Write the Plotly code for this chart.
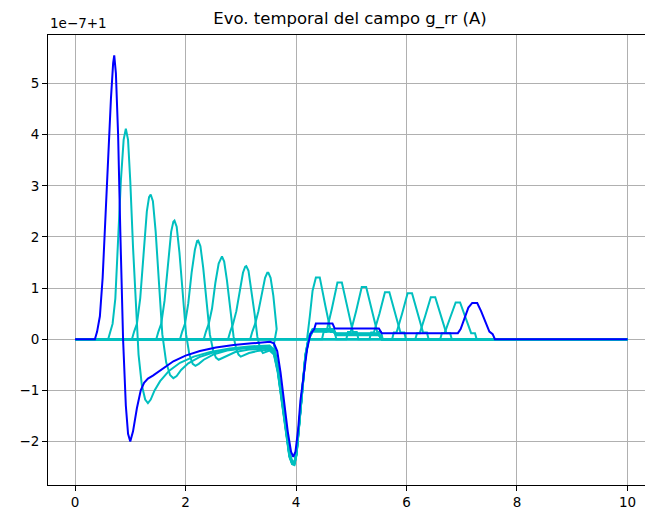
import plotly.graph_objects as go

# ---------------- data (units of 1e-7, offset +1) ----------------
BLUE_X = [0, 0.36, 0.40, 0.45, 0.50, 0.55, 0.60, 0.65, 0.69, 0.71, 0.74, 0.78, 0.82, 0.87, 0.92, 0.96,
          1.00, 1.05, 1.12, 1.19, 1.25, 1.32, 1.41, 1.55, 1.78, 2.00, 2.26, 2.55, 2.87, 3.20, 3.53,
          3.60, 3.66, 3.72, 3.78, 3.85, 3.91, 3.95, 3.99, 4.04, 4.08, 4.14, 4.20, 4.26, 4.33, 4.36,
          4.66, 4.70, 5.50, 5.55, 6.93, 6.98, 7.05, 7.12, 7.19, 7.28, 7.35, 7.42, 7.50, 7.56, 7.60, 10]
BLUE_Y = [0, 0, 0.15, 0.45, 1.2, 2.4, 3.6, 4.7, 5.4, 5.55, 5.2, 4.0, 2.1, 0.0, -1.3, -1.85,
          -2.0, -1.8, -1.35, -1.0, -0.85, -0.77, -0.71, -0.6, -0.43, -0.32, -0.23, -0.16, -0.11, -0.08, -0.05,
          -0.08, -0.23, -0.65, -1.2, -1.8, -2.2, -2.3, -2.2, -1.75, -1.2, -0.65, -0.2, 0.1, 0.2, 0.31,
          0.31, 0.21, 0.21, 0.12, 0.12, 0.2, 0.4, 0.62, 0.71, 0.71, 0.55, 0.35, 0.15, 0.1, 0, 0]

# cyan curves whose pulse is still before the reflection (x < 4)
PRE1_X = [0, 0.60, 0.64, 0.68, 0.73, 0.78, 0.83, 0.88, 0.92, 0.96, 1.00, 1.05, 1.10, 1.15, 1.21, 1.27, 1.32,
          1.37, 1.44, 1.54, 1.70, 1.90, 2.15, 2.45, 2.80, 3.15, 3.52]
PRE1_Y = [0, 0, 0.15, 0.3, 0.8, 1.9, 3.1, 3.9, 4.12, 3.9, 3.1, 1.8, 0.6, -0.3, -0.9, -1.18, -1.25,
          -1.18, -1.0, -0.82, -0.62, -0.46, -0.34, -0.25, -0.18, -0.14, -0.12]
PRE2_X = [0, 1.03, 1.07, 1.12, 1.18, 1.24, 1.30, 1.34, 1.37, 1.41, 1.46, 1.52, 1.58, 1.65, 1.72, 1.78,
          1.84, 1.92, 2.05, 2.25, 2.50, 2.80, 3.15, 3.52]
PRE2_Y = [0, 0, 0.15, 0.3, 0.8, 1.7, 2.5, 2.78, 2.83, 2.7, 2.1, 1.1, 0.1, -0.45, -0.7, -0.76,
          -0.72, -0.6, -0.47, -0.35, -0.26, -0.2, -0.16, -0.14]
PRE3_X = [0, 1.47, 1.51, 1.56, 1.62, 1.68, 1.74, 1.78, 1.80, 1.84, 1.89, 1.95, 2.01, 2.07, 2.13, 2.18,
          2.24, 2.33, 2.50, 2.75, 3.10, 3.52]
PRE3_Y = [0, 0, 0.15, 0.3, 0.75, 1.5, 2.1, 2.3, 2.32, 2.2, 1.7, 0.9, 0.1, -0.3, -0.48, -0.52,
          -0.48, -0.4, -0.3, -0.22, -0.17, -0.16]
PRE4_X = [0, 1.90, 1.94, 1.99, 2.05, 2.11, 2.17, 2.21, 2.23, 2.27, 2.32, 2.38, 2.44, 2.50, 2.55, 2.60,
          2.66, 2.75, 2.90, 3.15, 3.52]
PRE4_Y = [0, 0, 0.15, 0.3, 0.7, 1.3, 1.75, 1.92, 1.93, 1.82, 1.4, 0.75, 0.1, -0.22, -0.36, -0.4,
          -0.37, -0.31, -0.25, -0.2, -0.18]
PRE5_X = [0, 2.33, 2.37, 2.42, 2.48, 2.54, 2.60, 2.64, 2.66, 2.70, 2.75, 2.81, 2.87, 2.92, 2.96, 3.00,
          3.06, 3.15, 3.30, 3.52]
PRE5_Y = [0, 0, 0.15, 0.3, 0.6, 1.1, 1.48, 1.6, 1.62, 1.52, 1.15, 0.6, 0.05, -0.2, -0.3, -0.34,
          -0.31, -0.27, -0.23, -0.2]
PRE6_X = [0, 2.77, 2.81, 2.86, 2.92, 2.98, 3.04, 3.08, 3.10, 3.14, 3.19, 3.25, 3.30, 3.35, 3.40, 3.46, 3.52]
PRE6_Y = [0, 0, 0.15, 0.3, 0.55, 0.95, 1.3, 1.42, 1.43, 1.34, 1.0, 0.5, 0.05, -0.18, -0.27, -0.25, -0.22]
PRE7_X = [0, 3.17, 3.21, 3.26, 3.32, 3.38, 3.44, 3.48, 3.50, 3.54, 3.59, 3.65]
PRE7_Y = [0, 0, 0.15, 0.3, 0.55, 0.9, 1.2, 1.3, 1.3, 1.2, 0.85, 0.2]

# shared reflection trough and small plateau after it
TAIL_X = [3.60, 3.67, 3.74, 3.81, 3.88, 3.93, 3.97, 4.01, 4.06, 4.11, 4.17, 4.23, 4.30, 4.68, 4.72, 5.50, 5.55, 10]
TAIL1_Y = [-0.2, -0.55, -1.1, -1.7, -2.2, -2.38, -2.4, -2.2, -1.6, -0.95, -0.3, 0.05, 0.2, 0.2, 0.12, 0.12, 0, 0]
TAIL2_Y = [-0.22, -0.57, -1.12, -1.72, -2.22, -2.4, -2.41, -2.21, -1.61, -0.96, -0.31, 0.04, 0.19, 0.19, 0.11, 0.11, 0, 0]
TAIL3_Y = [-0.24, -0.59, -1.14, -1.74, -2.24, -2.41, -2.42, -2.22, -1.62, -0.97, -0.32, 0.03, 0.18, 0.18, 0.1, 0.1, 0, 0]
TAIL4_Y = [-0.26, -0.61, -1.16, -1.76, -2.26, -2.42, -2.43, -2.23, -1.63, -0.98, -0.33, 0.02, 0.17, 0.17, 0.1, 0.1, 0, 0]
TAIL5_Y = [-0.28, -0.63, -1.18, -1.78, -2.28, -2.43, -2.44, -2.24, -1.64, -0.99, -0.34, 0.01, 0.16, 0.16, 0.09, 0.09, 0, 0]
TAIL6_Y = [-0.3, -0.65, -1.2, -1.8, -2.3, -2.44, -2.45, -2.25, -1.65, -1.0, -0.35, 0.0, 0.15, 0.15, 0.09, 0.09, 0, 0]
TAIL7_Y = [-0.1, -0.5, -1.1, -1.75, -2.28, -2.44, -2.46, -2.26, -1.66, -1.0, -0.35, 0.0, 0.15, 0.15, 0.08, 0.08, 0, 0]

# cyan curves whose pulse has passed the reflection (x > 4)
POST1_X = [0, 4.20, 4.25, 4.30, 4.36, 4.43, 4.53, 4.63, 4.70, 4.73, 10]
POST1_Y = [0, 0, 0.45, 0.95, 1.21, 1.21, 0.66, 0.14, 0.14, 0, 0]
POST2_X = [0, 4.47, 4.50, 4.55, 4.65, 4.75, 4.83, 4.93, 5.03, 5.10, 5.13, 10]
POST2_Y = [0, 0, 0.14, 0.14, 0.6, 1.11, 1.11, 0.6, 0.14, 0.14, 0, 0]
POST3_X = [0, 4.91, 4.94, 4.99, 5.09, 5.19, 5.27, 5.37, 5.47, 5.54, 5.57, 10]
POST3_Y = [0, 0, 0.14, 0.14, 0.56, 1.02, 1.02, 0.56, 0.14, 0.14, 0, 0]
POST4_X = [0, 5.33, 5.36, 5.41, 5.51, 5.61, 5.69, 5.79, 5.89, 5.96, 5.99, 10]
POST4_Y = [0, 0, 0.13, 0.13, 0.5, 0.92, 0.92, 0.5, 0.13, 0.13, 0, 0]
POST5_X = [0, 5.74, 5.77, 5.82, 5.92, 6.02, 6.10, 6.20, 6.30, 6.37, 6.40, 10]
POST5_Y = [0, 0, 0.13, 0.13, 0.5, 0.9, 0.9, 0.5, 0.13, 0.13, 0, 0]
POST6_X = [0, 6.16, 6.19, 6.24, 6.34, 6.44, 6.52, 6.62, 6.72, 6.79, 6.82, 10]
POST6_Y = [0, 0, 0.12, 0.12, 0.46, 0.82, 0.82, 0.46, 0.12, 0.12, 0, 0]
POST7_X = [0, 6.61, 6.64, 6.69, 6.79, 6.89, 6.97, 7.07, 7.17, 7.24, 7.27, 10]
POST7_Y = [0, 0, 0.12, 0.12, 0.42, 0.72, 0.72, 0.42, 0.12, 0.12, 0, 0]

X_TICKS = [0, 2, 4, 6, 8, 10]
Y_TICKS = [-2, -1, 0, 1, 2, 3, 4, 5]
Y_TICK_TEXT = ["\u22122", "\u22121", "0", "1", "2", "3", "4", "5"]
TITLE = "Evo. temporal del campo g_rr (A)"
OFFSET_TEXT = "1e\u22127+1"

CYAN = "#00bfbf"
BLUE = "#0000ff"
FONT = "DejaVu Sans"

fig = go.Figure()

pre = [(PRE1_X, PRE1_Y, TAIL1_Y), (PRE2_X, PRE2_Y, TAIL2_Y), (PRE3_X, PRE3_Y, TAIL3_Y),
       (PRE4_X, PRE4_Y, TAIL4_Y), (PRE5_X, PRE5_Y, TAIL5_Y), (PRE6_X, PRE6_Y, TAIL6_Y),
       (PRE7_X, PRE7_Y, TAIL7_Y)]
for px, py, ty in pre:
    fig.add_trace(go.Scatter(x=px + TAIL_X, y=py + ty, mode="lines",
                             line=dict(color=CYAN, width=2), showlegend=False))

post = [(POST1_X, POST1_Y), (POST2_X, POST2_Y), (POST3_X, POST3_Y), (POST4_X, POST4_Y),
        (POST5_X, POST5_Y), (POST6_X, POST6_Y), (POST7_X, POST7_Y)]
for px, py in post:
    fig.add_trace(go.Scatter(x=px, y=py, mode="lines",
                             line=dict(color=CYAN, width=2), showlegend=False))

fig.add_trace(go.Scatter(x=BLUE_X, y=BLUE_Y, mode="lines",
                         line=dict(color=BLUE, width=2), showlegend=False))

axis_common = dict(
    showline=True, linecolor="black", linewidth=1,
    ticks="outside", ticklen=5, tickwidth=1, tickcolor="black",
    showgrid=True, gridcolor="#b0b0b0", gridwidth=1, zeroline=False,
    tickfont=dict(family=FONT, size=13.5, color="black"),
)

fig.update_layout(
    width=645, height=518,
    margin=dict(l=48, r=0, t=35, b=33),
    paper_bgcolor="white", plot_bgcolor="white",
    title=dict(text=TITLE, x=(350 - 48) / 597, xref="paper", xanchor="center",
               y=1 - 18 / 518, yref="container", yanchor="middle",
               font=dict(family=FONT, size=16.5, color="black")),
    xaxis=dict(range=[-0.489, 10.317], tickvals=X_TICKS, mirror=True, **axis_common),
    yaxis=dict(range=[-2.85, 5.95], tickvals=Y_TICKS, ticktext=Y_TICK_TEXT, mirror=False, **axis_common),
    annotations=[dict(text=OFFSET_TEXT, xref="paper", yref="paper", x=0, y=1.005,
                      xanchor="left", yanchor="bottom", showarrow=False,
                      font=dict(family=FONT, size=13.5, color="black"))],
)

fig.write_html("out.html")
